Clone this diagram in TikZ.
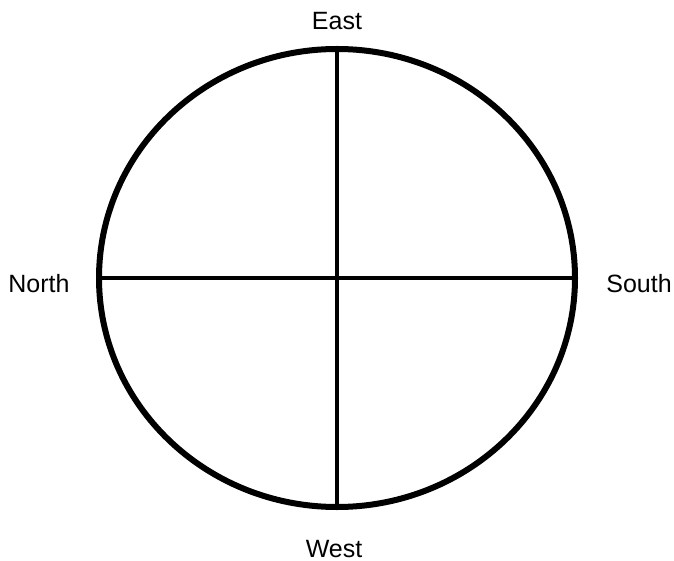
\documentclass[tikz,border=0pt]{standalone}
\usepackage{fontspec}
\setmainfont{Liberation Sans}
\usetikzlibrary{shapes.geometric, positioning}

\begin{document}
\begin{tikzpicture}[x=1pt, y=-1pt,
        dial/.style={draw=black, ellipse, line width=6pt, inner sep=0pt,
            minimum width=476pt, minimum height=458pt},
        spoke/.style={draw=black, line width=4.8pt},
        lbl/.style={anchor=base, inner sep=0pt, font=\fontsize{25}{29}\selectfont}
    ]
        \useasboundingbox (0,0) rectangle (674,561);
        \node[dial] (ring) at (337,278) {};

        \draw[spoke] (ring.north) -- (ring.south);
        \draw[spoke] (ring.west) -- (ring.east);

        \node[lbl] (east) at (337,30) {East};
        \node[lbl] (west) at (334,557) {West};
        \node[lbl] (north) at (39,292) {North};
        \node[lbl] (south) at (639,292) {South};
    \end{tikzpicture}
\end{document}
